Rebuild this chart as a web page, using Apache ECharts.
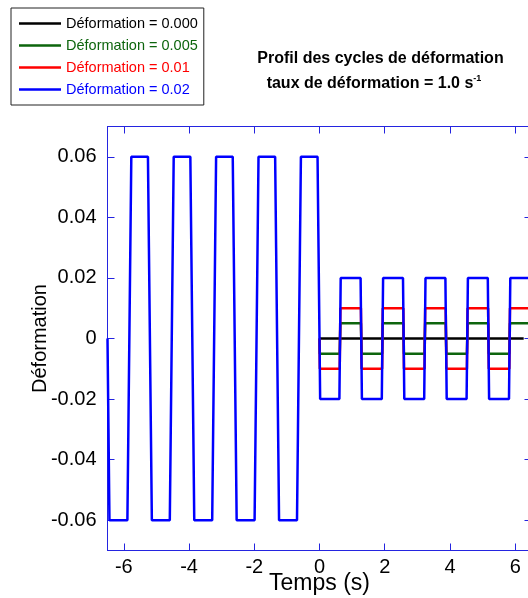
<!DOCTYPE html>
<html>
<head>
<meta charset="utf-8">
<script src="https://cdn.jsdelivr.net/npm/echarts@6/dist/echarts.min.js"></script>
<style>
html,body{margin:0;padding:0;background:#fff;}
#c{width:528px;height:598px;}
</style>
</head>
<body>
<div id="c"></div>
<script>
// ---- data (time in s, strain) ----
var seriesNames = ['Déformation = 0.000', 'Déformation = 0.005', 'Déformation = 0.01', 'Déformation = 0.02'];
var seriesColors = ['#000000', '#0d650d', '#ff0000', '#0000ff'];

var blackT = [0.00, 6.26];
var blackV = [0, 0];

var greenT = [0.00, 0.01, 0.62, 0.64, 1.27, 1.29, 1.92, 1.94, 2.57, 2.59, 3.22, 3.24, 3.87, 3.89, 4.52, 4.54, 5.17, 5.19, 5.82, 5.84, 6.50];
var greenV = [0, -0.005, -0.005, 0.005, 0.005, -0.005, -0.005, 0.005, 0.005, -0.005, -0.005, 0.005, 0.005, -0.005, -0.005, 0.005, 0.005, -0.005, -0.005, 0.005, 0.005];

var redT = [0.00, 0.01, 0.62, 0.64, 1.27, 1.29, 1.92, 1.94, 2.57, 2.59, 3.22, 3.24, 3.87, 3.89, 4.52, 4.54, 5.17, 5.19, 5.82, 5.84, 6.50];
var redV = [0, -0.01, -0.01, 0.01, 0.01, -0.01, -0.01, 0.01, 0.01, -0.01, -0.01, 0.01, 0.01, -0.01, -0.01, 0.01, 0.01, -0.01, -0.01, 0.01, 0.01];

var blueT = [-6.50, -6.47, -6.44,
  -5.89, -5.86, -5.80, -5.77,
  -5.26, -5.23, -5.17, -5.14,
  -4.59, -4.56, -4.50, -4.47,
  -3.96, -3.93, -3.87, -3.84,
  -3.29, -3.26, -3.20, -3.17,
  -2.66, -2.63, -2.57, -2.54,
  -1.99, -1.96, -1.90, -1.87,
  -1.36, -1.33, -1.27, -1.24,
  -0.69, -0.66, -0.60, -0.57,
  -0.06, -0.03, 0.00,
  0.02, 0.61, 0.65, 1.26, 1.30, 1.91, 1.95, 2.56, 2.60, 3.21, 3.25, 3.86, 3.90, 4.51, 4.55, 5.16, 5.20, 5.81, 5.85, 6.50];
var blueV = [0, -0.03, -0.06,
  -0.06, -0.03, 0.03, 0.06,
  0.06, 0.03, -0.03, -0.06,
  -0.06, -0.03, 0.03, 0.06,
  0.06, 0.03, -0.03, -0.06,
  -0.06, -0.03, 0.03, 0.06,
  0.06, 0.03, -0.03, -0.06,
  -0.06, -0.03, 0.03, 0.06,
  0.06, 0.03, -0.03, -0.06,
  -0.06, -0.03, 0.03, 0.06,
  0.06, 0.03, 0,
  -0.02, -0.02, 0.02, 0.02, -0.02, -0.02, 0.02, 0.02, -0.02, -0.02, 0.02, 0.02, -0.02, -0.02, 0.02, 0.02, -0.02, -0.02, 0.02, 0.02];

var xTicks = [-6, -4, -2, 0, 2, 4, 6];
var yTicks = [-0.06, -0.04, -0.02, 0, 0.02, 0.04, 0.06];
var xRange = [-6.5, 6.5];
var yRange = [-0.07, 0.07];

function zip(t, v) { return t.map(function (x, i) { return [x, v[i]]; }); }

var FONT = '"Liberation Sans", Arial, sans-serif';
var AXC = '#2424e0';
var LEGEND_ICON = 'path://M0,0 L0.01,0 L0,0.01 Z M0,5.75 L42,5.75 L42,8.25 L0,8.25 Z M42,14 L41.99,14 L42,13.99 Z';

function xAx(pos, show) {
  return {
    type: 'value', position: pos, min: xRange[0], max: xRange[1],
    axisLine: { show: true, onZero: false, lineStyle: { color: AXC, width: 1 } },
    axisTick: { show: true, inside: true, length: 7, customValues: xTicks, lineStyle: { color: AXC, width: 1 } },
    axisLabel: { show: show, customValues: xTicks, margin: 7, color: '#000', fontSize: 20, fontFamily: FONT },
    splitLine: { show: false },
    name: show ? 'Temps (s)' : '', nameLocation: 'middle', nameGap: 22, nameMoveOverlap: false,
    nameTextStyle: { color: '#000', fontSize: 23, fontFamily: FONT }
  };
}
function yAx(pos, show) {
  return {
    type: 'value', position: pos, min: yRange[0], max: yRange[1],
    axisLine: { show: true, onZero: false, lineStyle: { color: AXC, width: 1 } },
    axisTick: { show: true, inside: true, length: 7, customValues: yTicks, lineStyle: { color: AXC, width: 1 } },
    axisLabel: { show: show, customValues: yTicks, margin: 11, color: '#000', fontSize: 20, fontFamily: FONT,
      formatter: function (v) { return Math.abs(v) < 1e-9 ? '0' : v.toFixed(2); } },
    splitLine: { show: false },
    name: show ? 'Déformation' : '', nameLocation: 'middle', nameGap: 57, nameRotate: 90, nameMoveOverlap: false,
    nameTextStyle: { color: '#000', fontSize: 20, fontFamily: FONT }
  };
}

var tList = [blackT, greenT, redT, blueT];
var vList = [blackV, greenV, redV, blueV];

var chart = echarts.init(document.getElementById('c'), null, { renderer: 'canvas' });
chart.setOption({
  animation: false,
  backgroundColor: '#fff',
  grid: { left: 107.5, top: 126.5, width: 424, height: 424, containLabel: false, outerBoundsMode: 'none' },
  xAxis: [xAx('bottom', true), xAx('top', false)],
  yAxis: [yAx('left', true), yAx('right', false)],
  legend: {
    orient: 'vertical', left: 11, top: 8,
    padding: [8, 6, 8, 8],
    icon: LEGEND_ICON,
    itemWidth: 42, itemHeight: 14, itemGap: 7,
    itemStyle: { borderWidth: 0 },
    borderColor: '#222', borderWidth: 1, backgroundColor: '#fff',
    textStyle: { fontSize: 14.5, fontFamily: FONT, lineHeight: 14 },
    data: seriesNames.map(function (n, i) { return { name: n, textStyle: { color: seriesColors[i] } }; })
  },
  graphic: [
    { type: 'text', x: 380.5, y: 58.5, style: { text: 'Profil des cycles de déformation', fill: '#000',
        fontSize: 16, fontWeight: 'bold', fontFamily: FONT, align: 'center', verticalAlign: 'middle' } },
    { type: 'text', x: 374, y: 83.5, style: { text: 'taux de déformation = 1.0 s{sup|-1}', fill: '#000',
        fontSize: 16, fontWeight: 'bold', fontFamily: FONT, align: 'center', verticalAlign: 'middle', lineHeight: 18,
        rich: { sup: { fontSize: 9, fontWeight: 'bold', fontFamily: FONT, fill: '#000', verticalAlign: 'top', lineHeight: 18 } } } }
  ],
  series: seriesNames.map(function (n, i) {
    return {
      name: n, type: 'line', xAxisIndex: 0, yAxisIndex: 0,
      data: zip(tList[i], vList[i]),
      symbol: 'none', showSymbol: false,
      lineStyle: { color: seriesColors[i], width: 2.5 },
      itemStyle: { color: seriesColors[i] },
      z: 2 + i
    };
  })
});
</script>
</body>
</html>
